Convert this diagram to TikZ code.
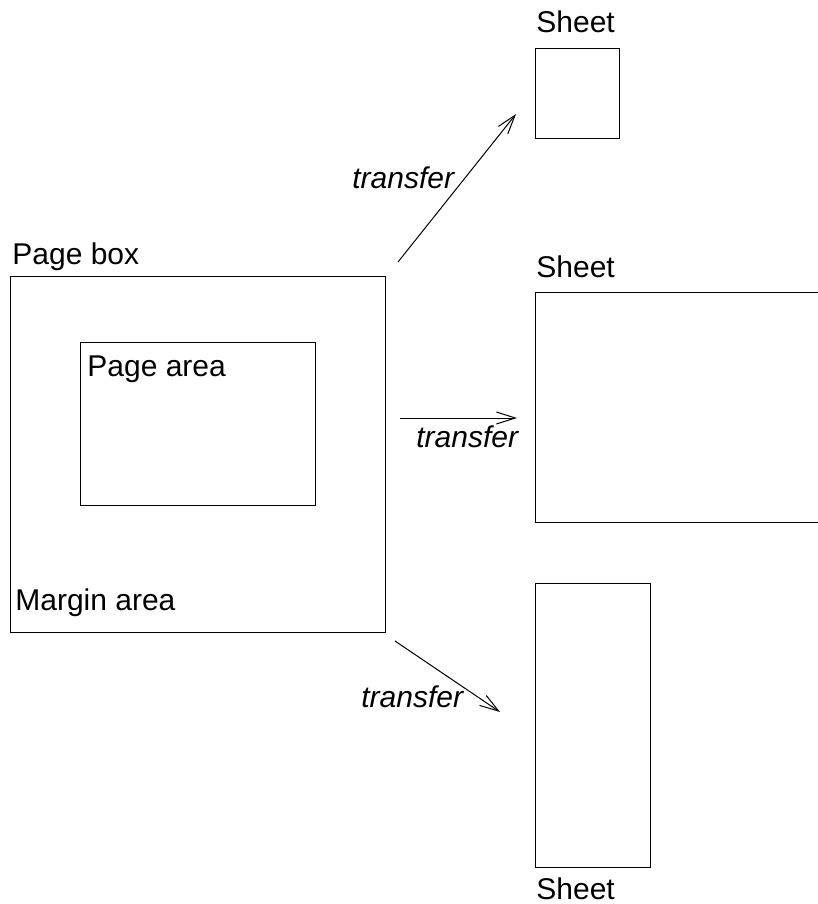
\documentclass[tikz,border=0pt]{standalone}
\usepackage{fontspec}
\setmainfont{Liberation Sans}
\usetikzlibrary{arrows.meta,positioning}
\tikzset{
  box/.style={draw,line width=0.5pt},
  lbl/.style={anchor=base west,inner sep=0pt,font=\fontsize{15}{18}\selectfont},
  tlbl/.style={lbl,font=\fontsize{15}{18}\selectfont\itshape},
  xfer/.style={line width=0.5pt,-{Straight Barb[length=9.5pt,width=6pt]}}
}
\begin{document}
\begin{tikzpicture}[x=0.5pt,y=-0.5pt]
\useasboundingbox (0,0) rectangle (818,904);
\clip (0,0) rectangle (818,904);
% page box with page area inside
\draw[box] (10,276) rectangle (385,632);
\draw[box] (80,342) rectangle (315,505);
\node[lbl] (pagebox) at (12,264) {Page box};
\node[lbl] (pagearea) at (87,376) {Page area};
\node[lbl] (margin) at (15,610) {Margin area};
% the three sheets
\draw[box] (535,49) rectangle (619,138);
\draw[box] (535,292) rectangle (830,522);
\draw[box] (535,583) rectangle (650,867);
\node[lbl] (sheeta) at (536,33) {Sheet};
\node[lbl] (sheetb) at (536,277) {Sheet};
\node[lbl] (sheetc) at (536,899) {Sheet};
% transfer arrows
\coordinate (fromA) at (398,262);
\coordinate (toA) at (516,114);
\coordinate (fromB) at (400,418);
\coordinate (toB) at (517,418);
\coordinate (fromC) at (395,641);
\coordinate (toC) at (500,712);
\draw[xfer] (fromA) -- (toA);
\draw[xfer] (fromB) -- (toB);
\draw[xfer] (fromC) -- (toC);
\node[tlbl] (xferA) at (352,188) {transfer};
\node[tlbl] (xferB) at (416,447) {transfer};
\node[tlbl] (xferC) at (361,707) {transfer};
\end{tikzpicture}
\end{document}
